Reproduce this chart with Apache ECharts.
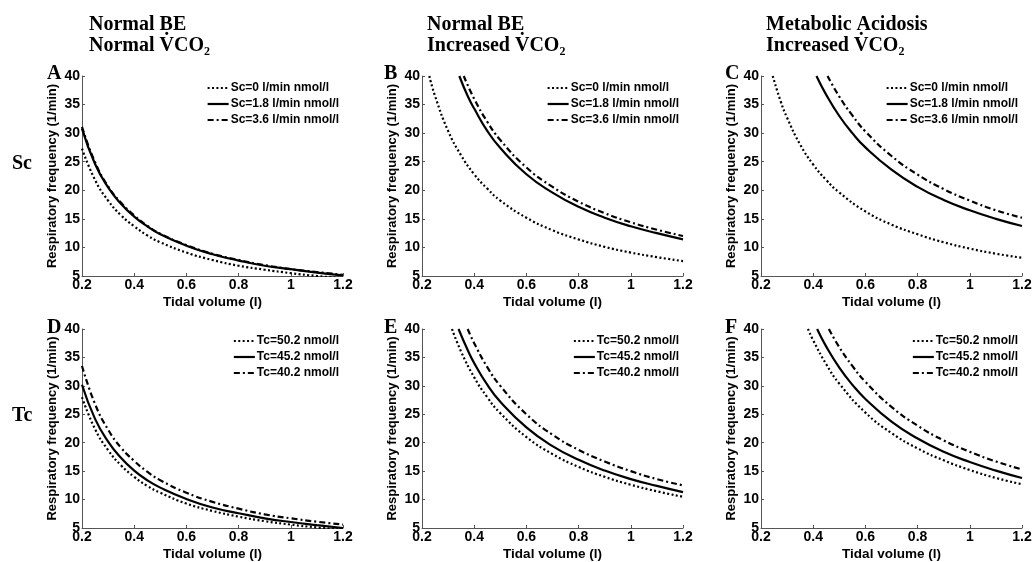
<!DOCTYPE html>
<html>
<head>
<meta charset="utf-8">
<script src="https://cdn.jsdelivr.net/npm/echarts@6/dist/echarts.min.js"></script>
<style>
  html, body { margin: 0; padding: 0; background: #fff; }
  #main { width: 1035px; height: 562px; }
</style>
</head>
<body>
<div id="main"></div>
<script>
// tidal volume (l) grid for panels A and D
var volAD = [0.2, 0.25, 0.3, 0.35, 0.4, 0.45, 0.5, 0.6, 0.7, 0.8, 0.9, 1.0, 1.1, 1.2];

// Panel A: normal BE, normal VCO2
var aDot  = [27.3, 21.8, 18.2, 15.6, 13.7, 12.1, 10.9, 9.1, 7.8, 6.8, 6.1, 5.5, 5.0, 4.6];
var aSol  = [30.8, 24.6, 20.5, 17.6, 15.4, 13.7, 12.3, 10.3, 8.8, 7.7, 6.8, 6.2, 5.6, 5.1];
var aDash = [31.1, 24.9, 20.7, 17.8, 15.6, 13.8, 12.4, 10.4, 8.9, 7.8, 6.9, 6.2, 5.7, 5.2];

// Panel B: normal BE, increased VCO2
var bDotV  = [0.228, 0.25, 0.3, 0.35, 0.4, 0.45, 0.5, 0.6, 0.7, 0.8, 0.9, 1.0, 1.1, 1.2];
var bDot   = [40.0, 36.5, 30.4, 26.1, 22.8, 20.3, 18.2, 15.2, 13.0, 11.4, 10.1, 9.1, 8.3, 7.6];
var bSolV  = [0.343, 0.375, 0.4, 0.45, 0.5, 0.6, 0.7, 0.8, 0.9, 1.0, 1.1, 1.2];
var bSol   = [40.0, 36.5, 34.3, 30.4, 27.4, 22.8, 19.6, 17.1, 15.2, 13.7, 12.5, 11.4];
var bDashV = [0.36, 0.4, 0.45, 0.5, 0.6, 0.7, 0.8, 0.9, 1.0, 1.1, 1.2];
var bDash  = [40.0, 36.0, 32.0, 28.8, 24.0, 20.6, 18.0, 16.0, 14.4, 13.1, 12.0];

// Panel C: metabolic acidosis, increased VCO2
var cDotV  = [0.245, 0.275, 0.3, 0.35, 0.4, 0.45, 0.5, 0.6, 0.7, 0.8, 0.9, 1.0, 1.1, 1.2];
var cDot   = [40.0, 35.6, 32.7, 28.0, 24.5, 21.8, 19.6, 16.3, 14.0, 12.3, 10.9, 9.8, 8.9, 8.2];
var cSolV  = [0.4125, 0.45, 0.5, 0.55, 0.6, 0.7, 0.8, 0.9, 1.0, 1.1, 1.2];
var cSol   = [40.0, 36.7, 33.0, 30.0, 27.5, 23.6, 20.6, 18.3, 16.5, 15.0, 13.75];
var cDashV = [0.455, 0.5, 0.55, 0.6, 0.7, 0.8, 0.9, 1.0, 1.1, 1.2];
var cDash  = [40.0, 36.4, 33.1, 30.3, 26.0, 22.75, 20.2, 18.2, 16.5, 15.2];

// Panel D: Tc, normal BE, normal VCO2
var dDot  = [28.0, 22.4, 18.7, 16.0, 14.0, 12.4, 11.2, 9.3, 8.0, 7.0, 6.2, 5.6, 5.1, 4.7];
var dSol  = [30.2, 24.2, 20.2, 17.3, 15.1, 13.4, 12.1, 10.1, 8.6, 7.6, 6.7, 6.05, 5.5, 5.0];
var dDash = [33.5, 26.8, 22.3, 19.1, 16.8, 14.9, 13.4, 11.2, 9.6, 8.4, 7.4, 6.7, 6.1, 5.6];

// Panel E
var eDotV  = [0.315, 0.35, 0.4, 0.45, 0.5, 0.6, 0.7, 0.8, 0.9, 1.0, 1.1, 1.2];
var eDot   = [40.0, 36.0, 31.5, 28.0, 25.2, 21.0, 18.0, 15.75, 14.0, 12.6, 11.45, 10.5];
var eSolV  = [0.34, 0.375, 0.4, 0.45, 0.5, 0.6, 0.7, 0.8, 0.9, 1.0, 1.1, 1.2];
var eSol   = [40.0, 36.3, 34.0, 30.2, 27.2, 22.7, 19.4, 17.0, 15.1, 13.6, 12.4, 11.3];
var eDashV = [0.375, 0.4, 0.45, 0.5, 0.6, 0.7, 0.8, 0.9, 1.0, 1.1, 1.2];
var eDash  = [40.0, 37.5, 33.3, 30.0, 25.0, 21.4, 18.75, 16.7, 15.0, 13.6, 12.5];

// Panel F
var fDotV  = [0.38, 0.4, 0.45, 0.5, 0.6, 0.7, 0.8, 0.9, 1.0, 1.1, 1.2];
var fDot   = [40.0, 38.0, 33.8, 30.4, 25.3, 21.7, 19.0, 16.9, 15.2, 13.8, 12.7];
var fSolV  = [0.415, 0.45, 0.5, 0.55, 0.6, 0.7, 0.8, 0.9, 1.0, 1.1, 1.2];
var fSol   = [40.0, 36.9, 33.2, 30.2, 27.7, 23.7, 20.75, 18.4, 16.6, 15.1, 13.8];
var fDashV = [0.46, 0.5, 0.55, 0.6, 0.7, 0.8, 0.9, 1.0, 1.1, 1.2];
var fDash  = [40.0, 36.8, 33.5, 30.7, 26.3, 23.0, 20.4, 18.4, 16.7, 15.3];

var scNames = ['Sc=0 l/min nmol/l', 'Sc=1.8 l/min nmol/l', 'Sc=3.6 l/min nmol/l'];
var tcNames = ['Tc=50.2 nmol/l', 'Tc=45.2 nmol/l', 'Tc=40.2 nmol/l'];
var xTicks = { min: 0.2, max: 1.2, interval: 0.2 };
var yTicks = { min: 5, max: 40, interval: 5 };

var chart = echarts.init(document.getElementById('main'));

var lineTypes = [[2, 2.4], 'solid', [6, 3, 2, 3]];

function zip(xs, ys) {
    return xs.map(function (x, i) { return [x, ys[i]]; });
}

var panels = [
    { left: 82,  top: 76,  names: scNames, sets: [[volAD, aDot], [volAD, aSol], [volAD, aDash]] },
    { left: 422, top: 76,  names: scNames, sets: [[bDotV, bDot], [bSolV, bSol], [bDashV, bDash]] },
    { left: 761, top: 76,  names: scNames, sets: [[cDotV, cDot], [cSolV, cSol], [cDashV, cDash]] },
    { left: 82,  top: 329, names: tcNames, sets: [[volAD, dDot], [volAD, dSol], [volAD, dDash]] },
    { left: 422, top: 329, names: tcNames, sets: [[eDotV, eDot], [eSolV, eSol], [eDashV, eDash]] },
    { left: 761, top: 329, names: tcNames, sets: [[fDotV, fDot], [fSolV, fSol], [fDashV, fDash]] }
];

var grids = [], xAxes = [], yAxes = [], series = [], legends = [];
var axisFont = { color: '#000', fontFamily: 'Liberation Sans, Arial', fontWeight: 'bold', fontSize: 14 };
var xNameFont = { color: '#000', fontFamily: 'Liberation Sans, Arial', fontWeight: 'bold', fontSize: 13.5 };
var yNameFont = { color: '#000', fontFamily: 'Liberation Sans, Arial', fontWeight: 'bold', fontSize: 13 };

panels.forEach(function (p, i) {
    grids.push({ left: p.left, top: p.top, width: 261, height: 200 });
    xAxes.push({
        type: 'value', gridIndex: i, min: xTicks.min, max: xTicks.max, interval: xTicks.interval,
        name: 'Tidal volume (l)', nameLocation: 'middle', nameGap: 19, nameTextStyle: xNameFont,
        axisLine: { lineStyle: { color: '#555', width: 1 } },
        axisTick: { inside: true, length: 3, lineStyle: { color: '#555' } },
        axisLabel: Object.assign({ margin: 2 }, axisFont),
        splitLine: { show: false }
    });
    yAxes.push({
        type: 'value', gridIndex: i, min: yTicks.min, max: yTicks.max, interval: yTicks.interval,
        name: 'Respiratory frequency (1/min)', nameLocation: 'middle', nameGap: 23, nameTextStyle: yNameFont,
        axisLine: { show: true, lineStyle: { color: '#555', width: 1 } },
        axisTick: { show: true, inside: true, length: 3, lineStyle: { color: '#555' } },
        axisLabel: Object.assign({ margin: 2 }, axisFont),
        splitLine: { show: false }
    });
    p.sets.forEach(function (s, k) {
        series.push({
            type: 'line', name: p.names[k], xAxisIndex: i, yAxisIndex: i,
            data: zip(s[0], s[1]), smooth: true, symbol: 'none', showSymbol: false,
            lineStyle: { color: '#000', width: 2.2, type: lineTypes[k] },
            itemStyle: { color: '#000' }
        });
    });
    legends.push({
        data: p.names, orient: 'vertical', selectedMode: false,
        right: 1035 - (p.left + 257), top: p.top + 6, padding: 0,
        itemWidth: 21, itemHeight: 12, itemGap: 4, align: 'left',
        itemStyle: { opacity: 0 },
        lineStyle: { width: 2.2 },
        textStyle: { color: '#000', fontFamily: 'Liberation Sans, Arial', fontWeight: 'bold', fontSize: 12, padding: [0, 0, 0, -3] }
    });
});

var serif = { color: '#000', fontFamily: 'Liberation Serif, Times New Roman, serif', fontWeight: 'bold', fontSize: 20, lineHeight: 21 };
var titles = [
    { text: 'Normal BE\nNormal V\u0307CO\u2082', left: 89, top: 14 },
    { text: 'Normal BE\nIncreased V\u0307CO\u2082', left: 427, top: 14 },
    { text: 'Metabolic Acidosis\nIncreased V\u0307CO\u2082', left: 766, top: 14 },
    { text: 'A', left: 47, top: 63 },
    { text: 'B', left: 384, top: 63 },
    { text: 'C', left: 725, top: 63 },
    { text: 'D', left: 47, top: 317 },
    { text: 'E', left: 384, top: 317 },
    { text: 'F', left: 725, top: 317 },
    { text: 'Sc', left: 12, top: 153 },
    { text: 'Tc', left: 12, top: 405 }
].map(function (t) {
    return { text: t.text, left: t.left, top: t.top, padding: 0, textStyle: serif };
});

chart.setOption({
    animation: false,
    title: titles,
    grid: grids,
    xAxis: xAxes,
    yAxis: yAxes,
    legend: legends,
    series: series
});
</script>
</body>
</html>
